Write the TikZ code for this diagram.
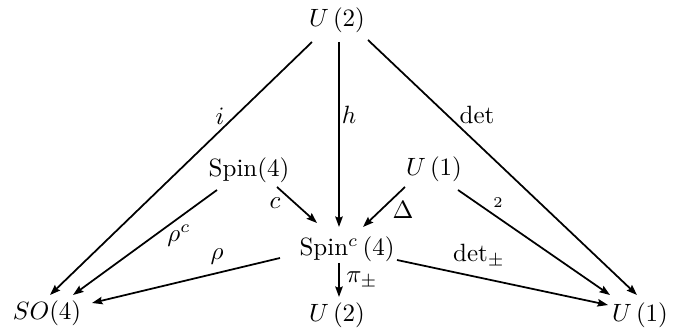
\documentclass[tikz,border=0pt]{standalone}
\usetikzlibrary{arrows.meta,calc}
\begin{document}
\begin{tikzpicture}[x=0.4pt,y=-0.4pt,
  obj/.style={inner sep=0pt,font=\fontsize{10}{12}\selectfont},
  lbl/.style={inner sep=0pt,font=\fontsize{10}{12}\selectfont},
  arr/.style={line width=0.7pt,-{Stealth[length=4.2pt,width=3pt,inset=0.6pt]}}]
\useasboundingbox (0,0) rectangle (675,331);
% objects
\node[obj] (U2top) at (337,20) {$U\,(2)$};
\node[obj] (Spin4) at (249,170) {Spin(4)};
\node[obj] (U1mid) at (434,169) {$U\,(1)$};
\node[obj] (Spinc) at (347,249) {Spin$^c\,$(4)};
\node[obj] (SO4) at (47,313) {$SO(4)$};
\node[obj] (U2bot) at (337,315) {$U\,(2)$};
\node[obj] (U1bot) at (640,315) {$U\,(1)$};
% arrows
\draw[arr] ($(U2top)+(-25,22)$) -- ($(SO4)+(3,-18)$);
\draw[arr] ($(U2top)+(2,22)$) -- ($(Spinc)+(-8,-22)$);
\draw[arr] ($(U2top)+(31,20)$) -- ($(U1bot)+(-3,-20)$);
\draw[arr] ($(Spin4)+(-32,20)$) -- ($(SO4)+(26,-18)$);
\draw[arr] ($(Spin4)+(28,17)$) -- ($(Spinc)+(-30,-26)$);
\draw[arr] ($(U1mid)+(-29,18)$) -- ($(Spinc)+(16,-22)$);
\draw[arr] ($(U1mid)+(24,21)$) -- ($(U1bot)+(-30,-20)$);
\draw[arr] ($(Spinc)+(-67,9)$) -- ($(SO4)+(45,-10)$);
\draw[arr] ($(Spinc)+(-8,14)$) -- ($(U2bot)+(2,-18)$);
\draw[arr] ($(Spinc)+(50,11)$) -- ($(U1bot)+(-32,-10)$);
% labels
\node[lbl] (li) at (220,116) {$i$};
\node[lbl] (lh) at (349,115) {$h$};
\node[lbl] (ldet) at (477,115) {$\det$};
\node[lbl] (lrhoc) at (179,236) {$\rho^c$};
\node[lbl] (lc) at (275,203) {$c$};
\node[lbl] (lDelta) at (403,210) {$\Delta$};
\node[lbl,font=\fontsize{6}{7}\selectfont] (ltwo) at (498,203) {2};
\node[lbl] (lrho) at (217,257) {$\rho$};
\node[lbl] (lpi) at (362,280) {$\pi_\pm$};
\node[lbl] (ldetpm) at (479,256) {$\det_\pm$};
\end{tikzpicture}
\end{document}
